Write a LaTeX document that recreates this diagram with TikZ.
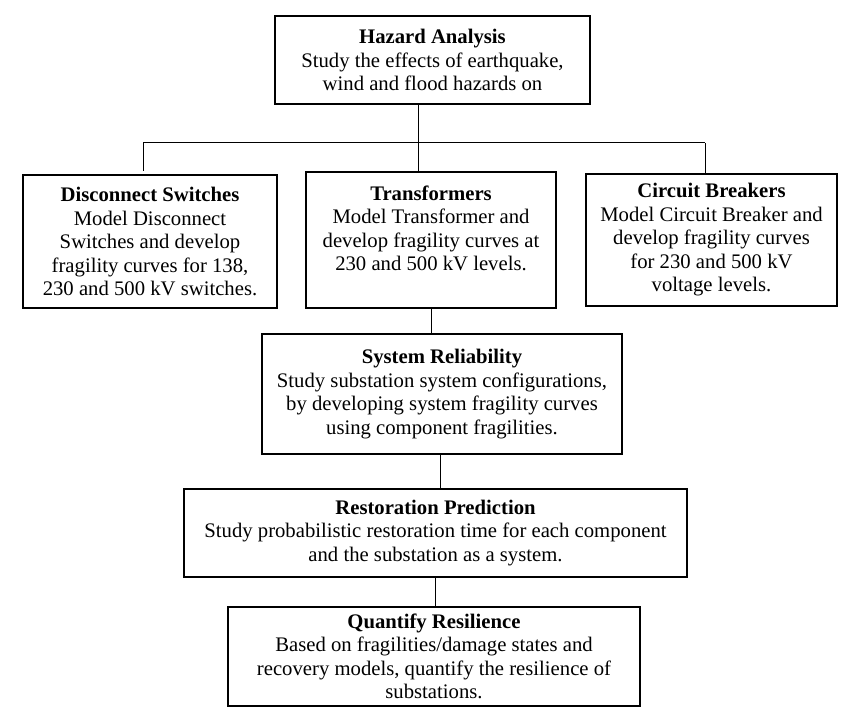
\documentclass[tikz,border=0pt]{standalone}
\usepackage{fontspec}
\setmainfont{Liberation Serif}
\begin{document}
\begin{tikzpicture}[x=1pt,y=1pt,
  box/.style={draw=black, line width=2pt, rectangle, inner sep=0pt, align=center,
    font={\fontsize{20.7}{23.5}\selectfont}},
  link/.style={draw=black, line width=1pt}]
\useasboundingbox (0,0) rectangle (857,-727);
\fill[white] (0,0) rectangle (857,-727);
\node[box, minimum width=315, minimum height=88] (haz) at (432.5,-60)
  {\textbf{Hazard Analysis}\\Study the effects of earthquake,\\wind and flood hazards on};
\node[box, minimum width=254, minimum height=133] (ds) at (150,-241.5)
  {\textbf{Disconnect Switches}\\Model Disconnect\\Switches and develop\\fragility curves for 138,\\230 and 500 kV switches.};
\node[box, minimum width=250, minimum height=136] (tr) at (431,-240)
  {\textbf{Transformers}\\Model Transformer and\\develop fragility curves at\\230 and 500 kV levels.\\\mbox{}};
\node[box, minimum width=251, minimum height=132] (cb) at (711.5,-240)
  {\textbf{Circuit Breakers}\\Model Circuit Breaker and\\develop fragility curves\\for 230 and 500 kV\\voltage levels.};
\node[box, minimum width=360, minimum height=120] (sr) at (442,-394)
  {\textbf{System Reliability}\\Study substation system configurations,\\by developing system fragility curves\\using component fragilities.};
\node[box, minimum width=503, minimum height=88] (rp) at (435.5,-533)
  {\textbf{Restoration Prediction}\\Study probabilistic restoration time for each component\\and the substation as a system.};
\node[box, minimum width=412, minimum height=99] (qr) at (434,-656.5)
  {\textbf{Quantify Resilience}\\Based on fragilities/damage states and\\recovery models, quantify the resilience of\\substations.};
\coordinate (jc) at (418,-143);
\coordinate (jl) at (143,-143);
\coordinate (jr) at (705,-143);
\draw[link] (haz.south -| jc) -- (tr.north -| jc);
\draw[link] (jl) -- (jr);
\draw[link] (jl) -- ([yshift=3]ds.north -| jl);
\draw[link] (jr) -- (cb.north -| jr);
\draw[link] (tr.south) -- (tr.south |- sr.north);
\draw[link] ([xshift=-2]sr.south) -- ([xshift=-2]sr.south |- rp.north);
\draw[link] (rp.south) -- (rp.south |- qr.north);
\end{tikzpicture}
\end{document}
